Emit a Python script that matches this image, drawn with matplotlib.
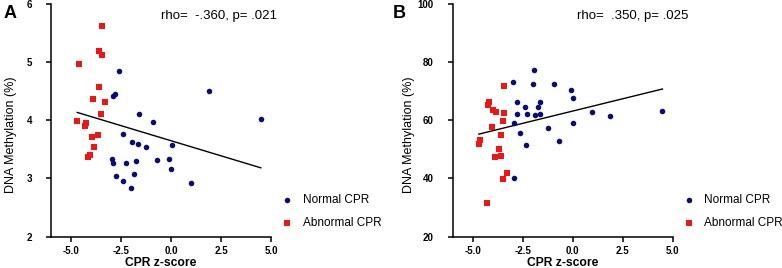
import matplotlib.pyplot as plt
import numpy as np

plt.rcParams['font.family'] = ['Liberation Sans', 'DejaVu Sans']

# panel A: CPR z-score vs DNA methylation (%)
a_norm_x = [-2.62, -2.90, -2.78, 1.90, -1.61, -0.88, 4.49, -2.38, -1.94, -1.64, -1.24, 0.03,
            -2.96, -2.91, -2.27, -1.74, -0.71, -0.12, 0.02, -2.75, -1.87, -2.38, -1.99, 0.99]
a_norm_y = [4.86, 4.42, 4.45, 4.51, 4.12, 3.97, 4.02, 3.76, 3.63, 3.59, 3.54, 3.57,
            3.33, 3.26, 3.26, 3.31, 3.32, 3.33, 3.16, 3.05, 3.07, 2.96, 2.83, 2.92]
a_abn_x = [-3.46, -3.58, -3.43, -4.60, -3.58, -3.89, -3.29, -3.48, -4.69, -4.25, -4.30,
           -3.66, -3.96, -3.84, -4.04, -4.16]
a_abn_y = [5.63, 5.20, 5.13, 4.97, 4.57, 4.37, 4.32, 4.11, 3.99, 3.95, 3.91,
           3.75, 3.71, 3.55, 3.41, 3.37]
a_fit = (-0.104, 3.651)  # slope, intercept of the drawn fit line

# panel B
b_norm_x = [-2.96, -1.92, -1.99, -0.91, -0.10, 0.02, -2.76, -1.62, -1.72, -2.38, -2.80, -2.27,
            -1.87, -1.61, -2.91, -1.23, 0.00, 0.99, 1.87, 4.49, -2.62, -2.35, -0.70, -2.91]
b_norm_y = [73.4, 77.4, 72.6, 72.4, 70.6, 67.9, 66.3, 66.4, 64.8, 64.7, 62.4, 62.4,
            62.0, 62.3, 59.1, 57.5, 59.0, 62.8, 61.4, 63.1, 55.6, 51.6, 53.0, 40.3]
b_abn_x = [-3.43, -4.17, -4.25, -3.96, -3.84, -3.43, -3.46, -4.04, -3.56, -4.62, -4.69,
           -3.68, -3.89, -3.56, -3.28, -3.46, -4.29]
b_abn_y = [71.8, 66.4, 65.2, 63.6, 62.8, 62.6, 59.9, 57.8, 55.1, 53.1, 51.8,
           50.0, 47.4, 47.6, 42.0, 39.9, 31.4]
b_fit = (1.694, 63.24)

panels = [
    ('A', a_norm_x, a_norm_y, a_abn_x, a_abn_y, a_fit, 'rho=  -.360, p= .021', (2, 6), [2, 3, 4, 5, 6]),
    ('B', b_norm_x, b_norm_y, b_abn_x, b_abn_y, b_fit, 'rho=  .350, p= .025', (20, 100), [20, 40, 60, 80, 100]),
]
xticks = [-5.0, -2.5, 0.0, 2.5, 5.0]

blue = '#0b0b7a'
red = '#f01414'

fig = plt.figure(figsize=(7.82, 2.68), dpi=100)
lefts = [0.0652, 0.5789]
lab_x = [-0.186, -0.244]
txt_x = [0.764, 0.817]
ylab_x = [-0.155, -0.171]

for i, (lab, nx, ny, ax_, ay, fit, txt, ylim, yticks) in enumerate(panels):
    ax = fig.add_axes([lefts[i], 0.1175, 0.2813, 0.866])
    ax.scatter(nx, ny, s=16, marker='o', color=blue, linewidths=0, label='Normal CPR', zorder=3)
    ax.scatter(ax_, ay, s=18, marker='s', color=red, linewidths=0, label='Abnormal CPR', zorder=3)

    allx = np.array(nx + ax_)
    xx = np.array([allx.min(), allx.max()])
    ax.plot(xx, fit[0] * xx + fit[1], color='black', linewidth=1.0, zorder=2)

    ax.set_xlim(-6, 5)
    ax.set_ylim(*ylim)
    ax.set_xticks(xticks)
    ax.set_xticklabels(['%.1f' % v for v in xticks], fontweight='bold', fontsize=7)
    ax.set_yticks(yticks)
    ax.set_yticklabels([str(v) for v in yticks], fontweight='bold', fontsize=7)
    ax.spines['top'].set_visible(False)
    ax.spines['right'].set_visible(False)
    for s in ['left', 'bottom']:
        ax.spines[s].set_linewidth(1.1)
    ax.tick_params(width=1.1, length=3.5)
    ax.tick_params(axis='x', pad=3)
    ax.tick_params(axis='y', pad=10)
    ax.set_xlabel('CPR z-score', fontweight='bold', fontsize=8.7, labelpad=1)
    ax.set_ylabel('DNA Methylation (%)', fontsize=9)
    ax.yaxis.set_label_coords(ylab_x[i], 0.44)
    ax.text(txt_x[i], 0.95, txt, transform=ax.transAxes, ha='center', va='center', fontsize=9.5)
    ax.text(lab_x[i], 0.963, lab, transform=ax.transAxes, ha='center', va='center',
            fontsize=13, fontweight='bold')
    ax.legend(loc='lower left', bbox_to_anchor=(1.02, 0.01), frameon=False, fontsize=8.5,
              handletextpad=0.7, labelspacing=1.0, handlelength=1.2, borderaxespad=0.0)

fig.savefig('out.png', dpi=100)
